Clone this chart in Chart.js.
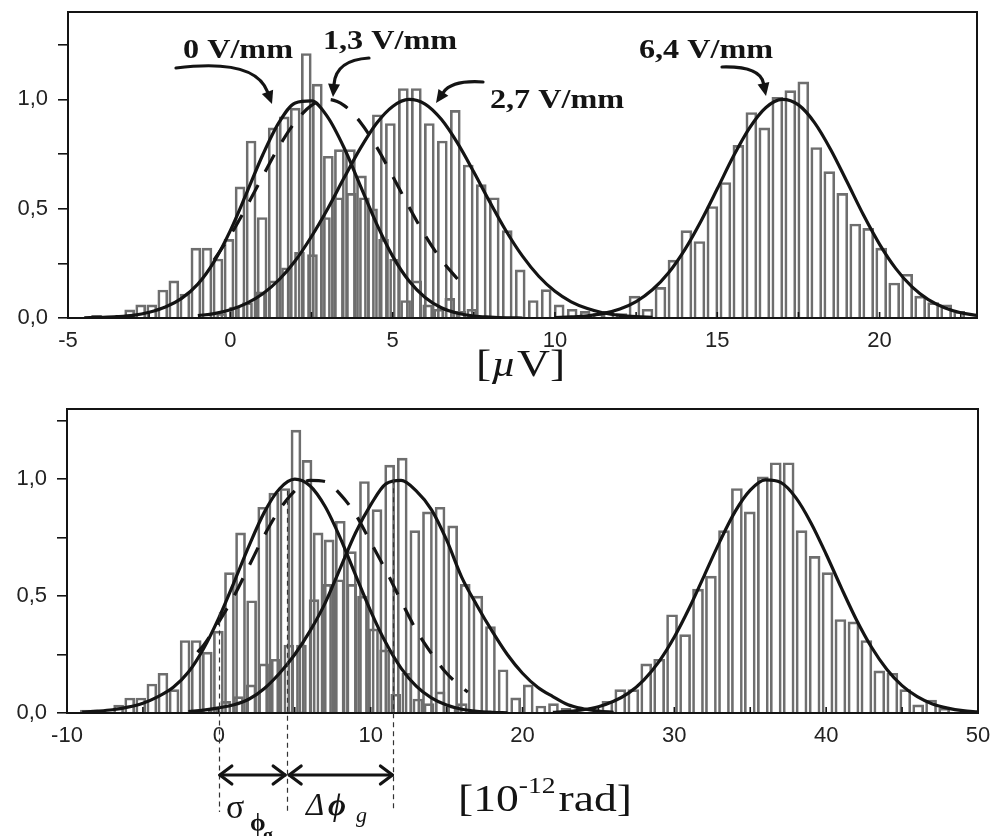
<!DOCTYPE html>
<html><head><meta charset="utf-8">
<script src="https://cdn.jsdelivr.net/npm/chart.js@4.4.0/dist/chart.umd.min.js"></script>
<style>
html,body{margin:0;padding:0;background:#fff;}
#wrap{position:relative;width:991px;height:836px;overflow:hidden;background:#fff;}
#c1{position:absolute;left:0;top:0;width:991px;height:390px;}
#c2{position:absolute;left:0;top:390px;width:991px;height:446px;}
</style></head><body>
<div id="wrap">
<canvas id="c1" width="991" height="390"></canvas>
<canvas id="c2" width="991" height="446"></canvas>
</div>
<script>
// ---------------- TOP PANEL (µV) ----------------
const topLabels = ['0 V/mm', '1,3 V/mm', '2,7 V/mm', '6,4 V/mm'];
// histogram 0 V/mm
const topH0X = [-4.12,-3.10,-2.76,-2.42,-2.08,-1.74,-1.40,-1.06,-0.72,-0.38,-0.04,0.30,0.64,0.98,1.32,1.66,2.00,2.34,2.68,3.02,3.36,3.70,4.04,4.38,4.72,5.06,5.40,5.74,6.08,6.42,6.76,7.10,7.44];
const topH0Y = [0.012,0.037,0.06,0.06,0.128,0.17,0.11,0.32,0.32,0.27,0.36,0.60,0.81,0.46,0.87,0.92,0.96,1.21,1.07,0.74,0.77,0.77,0.65,0.50,0.36,0.27,0.08,0.17,0.06,0.04,0.09,0.03,0.04];
// histogram 2,7 V/mm
const topH27X = [-0.27,0.13,0.53,0.93,1.33,1.73,2.13,2.53,2.93,3.33,3.73,4.13,4.53,4.93,5.33,5.73,6.13,6.53,6.93,7.33,7.73,8.13,8.53,8.93,9.33,9.73,10.13,10.53,10.93,11.33];
const topH27Y = [0.02,0.05,0.07,0.12,0.17,0.23,0.30,0.29,0.46,0.55,0.57,0.55,0.93,0.89,1.05,1.05,0.89,0.81,0.95,0.70,0.61,0.55,0.40,0.22,0.08,0.13,0.06,0.04,0.03,0.02];
// histogram 6,4 V/mm
const topH64X = [11.65,12.05,12.45,12.85,13.25,13.65,14.05,14.45,14.85,15.25,15.65,16.05,16.45,16.85,17.25,17.65,18.05,18.45,18.85,19.25,19.65,20.05,20.45,20.85,21.25,21.65,22.05,22.45];
const topH64Y = [0.03,0.02,0.10,0.04,0.14,0.265,0.40,0.35,0.51,0.62,0.79,0.94,0.87,1.01,1.04,1.08,0.78,0.67,0.57,0.43,0.41,0.32,0.16,0.20,0.10,0.07,0.06,0.03];
// fitted curves
const topFit0X = [-4.5,-4,-3.5,-3,-2.5,-2,-1.5,-1,-0.5,0,0.5,1,1.5,2,2.5,3,3.5,4,4.5,5,5.5,6,6.5,7,7.5,8,8.5,9];
const topFit0Y = [0.001,0.003,0.006,0.012,0.026,0.05,0.09,0.155,0.258,0.40,0.571,0.747,0.895,0.984,0.993,0.919,0.78,0.607,0.433,0.283,0.17,0.094,0.047,0.022,0.009,0.004,0.001,0.0];
const topFit13X = [-0.5,0,0.5,1,1.5,2,2.5,3,3.5,4,4.5,5,5.5,6,6.5,7];
const topFit13Y = [0.266,0.378,0.509,0.649,0.784,0.897,0.973,1.0,0.973,0.897,0.784,0.649,0.509,0.378,0.266,0.178];
const topFit27X = [-1,-0.5,0,0.5,1,1.5,2,2.5,3,3.5,4,4.5,5,5.5,6,6.5,7,7.5,8,8.5,9,9.5,10,10.5,11,11.5,12,12.5,13];
const topFit27Y = [0.011,0.02,0.038,0.067,0.111,0.175,0.262,0.373,0.50,0.64,0.775,0.89,0.968,1.0,0.979,0.909,0.80,0.668,0.529,0.397,0.283,0.191,0.122,0.074,0.043,0.023,0.012,0.006,0.003];
const topFit64X = [10,10.5,11,11.5,12,12.5,13,13.5,14,14.5,15,15.5,16,16.5,17,17.5,18,18.5,19,19.5,20,20.5,21,21.5,22,22.5,23];
const topFit64Y = [0.002,0.005,0.01,0.021,0.041,0.075,0.129,0.207,0.313,0.444,0.591,0.741,0.871,0.963,1.0,0.975,0.893,0.769,0.622,0.472,0.337,0.226,0.142,0.084,0.047,0.024,0.012];

// ---------------- BOTTOM PANEL (10^-12 rad) ----------------
const botH0X = [-8.79,-6.60,-5.87,-5.14,-4.41,-3.68,-2.95,-2.22,-1.49,-0.76,-0.03,0.70,1.43,2.16,2.89,3.62,4.35,5.08,5.81,6.54,7.27,8.00,8.73,9.46,10.19,10.92,11.65,12.38,13.11,13.84,14.57,15.30,16.03];
const botH0Y = [0.013,0.034,0.064,0.064,0.124,0.17,0.10,0.31,0.31,0.26,0.35,0.60,0.77,0.48,0.88,0.94,0.96,1.21,1.08,0.77,0.74,0.82,0.69,0.50,0.36,0.27,0.08,0.17,0.06,0.04,0.09,0.03,0.04];
const botH27X = [-0.37,0.46,1.29,2.12,2.95,3.78,4.61,5.44,6.27,7.10,7.93,8.76,9.59,10.42,11.25,12.08,12.91,13.74,14.57,15.40,16.23,17.06,17.89,18.72,19.55,20.38,21.21,22.04,22.87];
const botH27Y = [0.02,0.05,0.07,0.12,0.21,0.23,0.29,0.29,0.485,0.55,0.57,0.55,0.99,0.87,1.06,1.09,0.78,0.86,0.88,0.80,0.55,0.50,0.37,0.185,0.065,0.12,0.03,0.04,0.02];
const botH64X = [25.59,26.44,27.30,28.15,29.00,29.85,30.71,31.56,32.41,33.27,34.12,34.97,35.83,36.68,37.53,38.38,39.24,40.09,40.94,41.80,42.65,43.50,44.36,45.21,46.06,46.91,47.77];
const botH64Y = [0.05,0.10,0.10,0.21,0.23,0.42,0.335,0.53,0.585,0.78,0.96,0.86,1.01,1.07,1.07,0.78,0.67,0.60,0.40,0.39,0.31,0.18,0.17,0.10,0.035,0.055,0.02];
const botFit0X = [-9,-8,-7,-6,-5,-4,-3,-2,-1,0,1,2,3,4,5,6,7,8,9,10,11,12,13,14,15,16,17,18,19];
const botFit0Y = [0.004,0.008,0.014,0.025,0.042,0.07,0.11,0.175,0.276,0.407,0.559,0.717,0.859,0.959,1.0,0.972,0.883,0.748,0.591,0.436,0.30,0.192,0.115,0.065,0.034,0.016,0.007,0.003,0.001];
const botFit13X = [-1.4,-1,0,1,2,3,4,5,6,7,8,9,10,11,12,13,14,15,16,16.4];
const botFit13Y = [0.26,0.29,0.39,0.50,0.63,0.76,0.87,0.95,0.995,0.99,0.935,0.85,0.73,0.61,0.48,0.355,0.255,0.17,0.11,0.09];
const botFit27X = [-2,-1,0,1,2,3,4,5,6,7,8,9,10,11,12,13,14,15,16,17,18,19,20,21,22,23,24,25,26];
const botFit27Y = [0.006,0.012,0.022,0.035,0.06,0.105,0.17,0.25,0.35,0.47,0.62,0.77,0.89,0.98,0.995,0.95,0.87,0.74,0.58,0.46,0.35,0.25,0.17,0.11,0.07,0.035,0.018,0.008,0.003];
const botFit64X = [22,23,24,25,26,27,28,29,30,31,32,33,34,35,36,37,38,39,40,41,42,43,44,45,46,47,48,49,50];
const botFit64Y = [0.003,0.007,0.014,0.027,0.05,0.086,0.142,0.221,0.325,0.451,0.592,0.734,0.861,0.953,0.997,0.986,0.921,0.813,0.679,0.535,0.398,0.28,0.186,0.117,0.07,0.039,0.021,0.01,0.005];
// marker lines (sigma, delta-phi)
const botMarkX = [0, 4.5, 11.5];
const botMarkTop = [0.43, 0.95, 1.0];

// ---------------- helpers ----------------
const pts = (xs, ys) => xs.map((x, i) => ({x: x, y: ys[i]}));
const INK = '#141414';
const BAR = '#6e6e6e';
function barDs(xs, ys, th) {
  return {type: 'bar', data: pts(xs, ys), backgroundColor: 'rgba(255,255,255,0)', borderColor: BAR,
    borderWidth: 2, borderSkipped: 'start', barThickness: th, grouped: false, order: 2};
}
function lineDs(xs, ys, dashed) {
  return {type: 'line', data: pts(xs, ys), borderColor: INK, borderWidth: 3.2, pointRadius: 0,
    fill: false, cubicInterpolationMode: 'monotone', borderDash: dashed ? [19, 15] : [], order: 0};
}
const tickFont = {family: "'Liberation Sans', Arial, sans-serif", size: 22};
function yAxis(max, w) {
  return {type: 'linear', min: 0, max: max,
    afterFit: s => { s.width = w; s.paddingTop = 0; s.paddingBottom = 0; },
    ticks: {stepSize: 0.25, includeBounds: false, color: '#222', font: tickFont, padding: 10,
      callback: v => (Math.abs(v * 2 - Math.round(v * 2)) < 1e-6) ? v.toFixed(1).replace('.', ',') : ''},
    grid: {drawOnChartArea: false, drawTicks: true, tickLength: 10, color: INK, lineWidth: 1.6},
    border: {display: true, color: INK, width: 2}};
}
function xAxis(min, max, step, lab, h) {
  return {type: 'linear', min: min, max: max, offset: false,
    afterFit: s => { s.height = h; s.paddingLeft = 0; s.paddingRight = 0; },
    ticks: {stepSize: step, includeBounds: false, autoSkip: false, maxRotation: 0, color: '#222', font: tickFont, padding: 10,
      callback: v => (Math.abs(v / lab - Math.round(v / lab)) < 1e-6) ? String(v) : ''},
    grid: {drawOnChartArea: false, drawTicks: false},
    border: {display: true, color: INK, width: 2}};
}
function frame(chart) {
  const {ctx, chartArea: a, scales} = chart;
  ctx.save();
  ctx.strokeStyle = INK; ctx.lineWidth = 2;
  ctx.strokeRect(a.left, a.top, a.right - a.left, a.bottom - a.top);
  ctx.lineWidth = 1.6;
  scales.x.ticks.forEach(t => {
    const px = scales.x.getPixelForValue(t.value);
    ctx.beginPath(); ctx.moveTo(px, a.bottom); ctx.lineTo(px, a.bottom - 6); ctx.stroke();
  });
  ctx.restore();
}
function stext(ctx, s, x, y, font, sx, align) {
  ctx.save(); ctx.font = font; ctx.fillStyle = INK; ctx.textAlign = align || 'left'; ctx.textBaseline = 'alphabetic';
  ctx.translate(x, y); ctx.scale(sx || 1, 1); ctx.fillText(s, 0, 0); ctx.restore();
}
function tw(ctx, s, font) { ctx.save(); ctx.font = font; const w = ctx.measureText(s).width; ctx.restore(); return w; }
function curvedArrow(ctx, x0, y0, cx, cy, x1, y1) {
  ctx.save(); ctx.strokeStyle = INK; ctx.fillStyle = INK; ctx.lineWidth = 3.2; ctx.lineCap = 'round';
  const ang = Math.atan2(y1 - cy, x1 - cx);
  const L = 13, W = 6;
  const bx = x1 - L * Math.cos(ang), by = y1 - L * Math.sin(ang);
  ctx.beginPath(); ctx.moveTo(x0, y0); ctx.quadraticCurveTo(cx, cy, bx, by); ctx.stroke();
  ctx.beginPath(); ctx.moveTo(x1, y1);
  ctx.lineTo(bx + W * Math.sin(ang), by - W * Math.cos(ang));
  ctx.lineTo(bx - W * Math.sin(ang), by + W * Math.cos(ang));
  ctx.closePath(); ctx.fill(); ctx.restore();
}
function dblArrow(ctx, x0, x1, y) {
  ctx.save(); ctx.strokeStyle = INK; ctx.lineWidth = 3.2; ctx.lineCap = 'round'; ctx.lineJoin = 'round';
  ctx.beginPath(); ctx.moveTo(x0 + 1, y); ctx.lineTo(x1 - 1, y); ctx.stroke();
  ctx.beginPath(); ctx.moveTo(x0 + 13, y - 9); ctx.lineTo(x0 + 1, y); ctx.lineTo(x0 + 13, y + 9); ctx.stroke();
  ctx.beginPath(); ctx.moveTo(x1 - 13, y - 9); ctx.lineTo(x1 - 1, y); ctx.lineTo(x1 - 13, y + 9); ctx.stroke();
  ctx.restore();
}
const SERIF = "'Liberation Serif', 'Times New Roman', serif";

const topPlugin = {
  id: 'topDeco',
  afterDatasetsDraw(chart) {
    const ctx = chart.ctx;
    frame(chart);
    const f = 'bold 28px ' + SERIF;
    stext(ctx, topLabels[0], 238, 58, f, 1.15, 'center');
    stext(ctx, topLabels[1], 390, 49, f, 1.15, 'center');
    stext(ctx, topLabels[2], 557, 108, f, 1.15, 'center');
    stext(ctx, topLabels[3], 706, 58, f, 1.15, 'center');
    curvedArrow(ctx, 176, 68, 255, 58, 272, 104);
    curvedArrow(ctx, 369, 58, 336, 60, 333, 97);
    curvedArrow(ctx, 483, 82, 452, 80, 436, 103);
    curvedArrow(ctx, 722, 67, 760, 66, 766, 96);
    // axis unit [µV]
    const fr = '38px ' + SERIF, fi = 'italic 36px ' + SERIF, k = 1.2;
    let x = 476; const y = 376;
    stext(ctx, '[', x, y, fr, k); x += tw(ctx, '[', fr) * k;
    stext(ctx, 'µ', x, y, fi, k); x += tw(ctx, 'µ', fi) * k + 1;
    stext(ctx, 'V]', x, y, fr, k);
  }
};

const botPlugin = {
  id: 'botDeco',
  afterDatasetsDraw(chart) {
    const ctx = chart.ctx, sx = chart.scales.x, sy = chart.scales.y;
    frame(chart);
    ctx.save(); ctx.strokeStyle = '#333'; ctx.lineWidth = 1.2; ctx.setLineDash([5, 4]);
    botMarkX.forEach((v, i) => {
      const px = Math.round(sx.getPixelForValue(v)) + 0.5;
      ctx.beginPath(); ctx.moveTo(px, sy.getPixelForValue(botMarkTop[i])); ctx.lineTo(px, 422); ctx.stroke();
    });
    ctx.restore();
    const p0 = sx.getPixelForValue(botMarkX[0]), p1 = sx.getPixelForValue(botMarkX[1]), p2 = sx.getPixelForValue(botMarkX[2]);
    dblArrow(ctx, p0, p1 - 1, 385);
    dblArrow(ctx, p1 + 1, p2, 385);
    ctx.save(); ctx.fillStyle = INK; ctx.textBaseline = 'alphabetic';
    ctx.font = '34px ' + SERIF; ctx.fillText('σ', 226, 428);
    ctx.font = 'bold 25px ' + SERIF; ctx.fillText('ϕ', 250, 441);
    ctx.font = 'bold 20px ' + SERIF; ctx.fillText('g', 263, 452);
    ctx.font = 'italic 31px ' + SERIF; ctx.fillText('Δ', 306, 425);
    ctx.font = 'bold italic 31px ' + SERIF; ctx.fillText('ϕ', 328, 425);
    ctx.font = 'italic 22px ' + SERIF; ctx.fillText('g', 356, 432);
    ctx.restore();
    const fb = '38px ' + SERIF, fs = '23px ' + SERIF, k = 1.2;
    let x = 458;
    stext(ctx, '[10', x, 421, fb, k); x += tw(ctx, '[10', fb) * k;
    stext(ctx, '-12', x, 403, fs, k); x += tw(ctx, '-12', fs) * k + 3;
    stext(ctx, 'rad]', x, 421, fb, k);
  }
};

const common = {
  responsive: false, animation: false, devicePixelRatio: 1,
  plugins: {legend: {display: false}, tooltip: {enabled: false}}
};

new Chart(document.getElementById('c1'), {
  type: 'line',
  data: {datasets: [
    lineDs(topFit0X, topFit0Y, false), lineDs(topFit13X, topFit13Y, true),
    lineDs(topFit27X, topFit27Y, false), lineDs(topFit64X, topFit64Y, false),
    barDs(topH0X, topH0Y, 10), barDs(topH27X, topH27Y, 10), barDs(topH64X, topH64Y, 11)
  ]},
  options: Object.assign({}, common, {
    layout: {padding: {top: 12, right: 14, left: 0, bottom: 0}},
    scales: {x: xAxis(-5, 23, 2.5, 5, 72), y: yAxis(1.4, 68)}
  }),
  plugins: [topPlugin]
});

new Chart(document.getElementById('c2'), {
  type: 'line',
  data: {datasets: [
    lineDs(botFit0X, botFit0Y, false), lineDs(botFit13X, botFit13Y, true),
    lineDs(botFit27X, botFit27Y, false), lineDs(botFit64X, botFit64Y, false),
    barDs(botH0X, botH0Y, 10), barDs(botH27X, botH27Y, 10), barDs(botH64X, botH64Y, 11)
  ]},
  options: Object.assign({}, common, {
    layout: {padding: {top: 19, right: 13, left: 0, bottom: 0}},
    scales: {x: xAxis(-10, 50, 5, 10, 123), y: yAxis(1.3, 67)}
  }),
  plugins: [botPlugin]
});
</script></body></html>
